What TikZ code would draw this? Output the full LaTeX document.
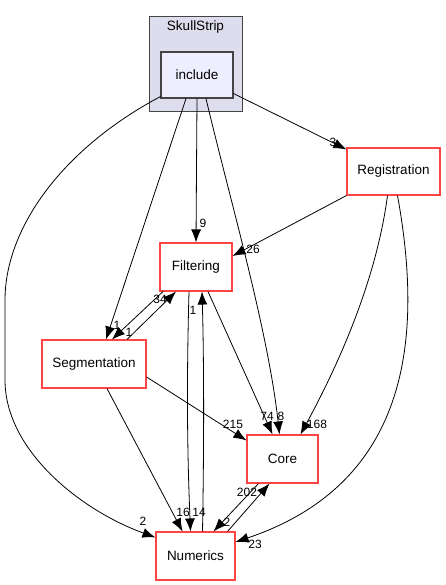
\documentclass[tikz,border=0pt]{standalone}
\usepackage{fontspec}
\setmainfont{Liberation Sans}
\usetikzlibrary{arrows.meta}
\definecolor{dirred}{HTML}{FF4444}
\definecolor{clusterfill}{HTML}{DDDDEE}
\definecolor{incfill}{HTML}{EEEEFF}
\definecolor{boxgrey}{HTML}{444444}
\begin{document}
\begin{tikzpicture}[x=1pt,y=-1pt,
    dir/.style={draw=dirred,line width=1.1pt,fill=white,inner sep=0pt,font=\fontsize{13.5}{15}\selectfont},
    dep/.style={line width=0.8pt,-{Latex[length=13pt,width=10pt]}},
    lbl/.style={inner sep=0pt,font=\fontsize{12}{13}\selectfont}]
    \useasboundingbox (0,0) rectangle (445,585);
    % cluster
    \node[draw=boxgrey,fill=clusterfill,line width=0.8pt,minimum width=93pt,minimum height=95pt,inner sep=0pt] (clu) at (195.5,63.5) {};
    \node[font=\fontsize{13.5}{15}\selectfont] (clutitle) at (195.5,27) {SkullStrip};
    \node[draw=boxgrey,fill=incfill,line width=1.1pt,minimum width=72pt,minimum height=46pt,inner sep=0pt,font=\fontsize{13.5}{15}\selectfont] (inc) at (197,75) {include};
    % directories
    \node[dir,minimum width=93pt,minimum height=47pt] (reg) at (393.5,171.5) {Registration};
    \node[dir,minimum width=72pt,minimum height=48pt] (filt) at (196,267) {Filtering};
    \node[dir,minimum width=104pt,minimum height=48pt] (seg) at (94,364) {Segmentation};
    \node[dir,minimum width=71pt,minimum height=48pt] (core) at (282.5,459) {Core};
    \node[dir,minimum width=79pt,minimum height=48pt] (num) at (195.5,556) {Numerics};
    % from include
    \draw[dep] ([yshift=5pt]inc.south east) -- ([yshift=-2pt]reg.north west) node[lbl] at (333,142) {3};
    \draw[dep] (inc.south) -- (filt.north) node[lbl] at (203,223) {9};
    \draw[dep] ([xshift=-11pt]inc.south) -- ([xshift=12pt]seg.north) node[lbl] at (117,325) {1};
    \draw[dep] ([xshift=9pt]inc.south) .. controls (230,200) and (268,330) .. ([xshift=-3pt]core.north) node[lbl] at (281,416) {8};
    \draw[dep] ([yshift=2pt]inc.south west) .. controls (60,150) and (5,230) .. (5,300) -- (5,380) .. controls (5,450) and (80,510) .. ([yshift=-6pt]num.north west) node[lbl] at (143,521) {2};
    % from Registration
    \draw[dep] (reg.south west) -- ([yshift=11pt]filt.east) node[lbl] at (253,249) {26};
    \draw[dep] ([xshift=-6pt]reg.south) .. controls (375,290) and (330,380) .. ([xshift=18pt]core.north) node[lbl] at (317,424) {168};
    \draw[dep] ([xshift=4pt]reg.south) .. controls (420,320) and (420,480) .. ([yshift=14pt]num.east) node[lbl] at (255,544) {23};
    % from Filtering
    \draw[dep] ([xshift=-33pt]filt.south) -- ([xshift=18pt]seg.north) node[lbl] at (129,332) {1};
    \draw[dep] ([xshift=12pt]filt.south) -- ([xshift=-10pt]core.north) node[lbl] at (267,416) {74};
    \draw[dep] ([xshift=-7pt]filt.south) .. controls (186,400) and (188,470) .. ([xshift=-5pt]num.north) node[lbl] at (199,512) {14};
    % from Segmentation
    \draw[dep] ([xshift=33pt]seg.north) -- ([xshift=-20pt]filt.south) node[lbl] at (160,299) {34};
    \draw[dep] ([yshift=-13pt]seg.east) -- ([yshift=-6pt]core.north west) node[lbl] at (233,424) {215};
    \draw[dep] ([xshift=13pt]seg.south) -- ([xshift=-13pt]num.north) node[lbl] at (183,512) {16};
    % Numerics and Core
    \draw[dep] ([xshift=7pt]num.north) .. controls (204,450) and (204,360) .. ([xshift=6pt]filt.south) node[lbl] at (193,310) {1};
    \draw[dep] ([xshift=-24pt]core.south) -- ([xshift=18pt]num.north) node[lbl] at (227,522) {2};
    \draw[dep] ([xshift=32pt]num.north) -- ([xshift=-13pt]core.south) node[lbl] at (247,492) {202};
\end{tikzpicture}
\end{document}
